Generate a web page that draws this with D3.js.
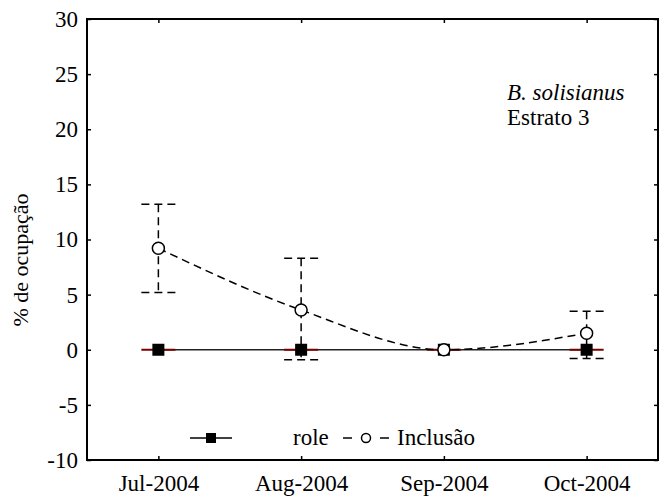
<!DOCTYPE html>
<html>
<head>
<meta charset="utf-8">
<script src="https://cdn.jsdelivr.net/npm/d3@7"></script>
<style>
  html, body { margin: 0; padding: 0; background: #fff; }
  svg { display: block; }
  svg text { font-family: "Liberation Serif", "Times New Roman", serif; fill: #000; }
</style>
</head>
<body>
<svg id="chart" width="661" height="497"></svg>
<script>
// Sampling months
const months = ["Jul-2004", "Aug-2004", "Sep-2004", "Oct-2004"];
// "role" series (mean occupation, %)
const roleValues = [0, 0, 0, 0];
// "Inclusão" series: mean and error-bar bounds (%)
const inclusaoValues = [9.2, 3.6, 0, 1.5];
const inclusaoLower = [5.2, -0.9, 0, -0.8];
const inclusaoUpper = [13.2, 8.3, 0, 3.5];
// Axis ticks
const yTicks = [-10, -5, 0, 5, 10, 15, 20, 25, 30];

const svg = d3.select("#chart");
const W = 661, H = 497;
const margin = { left: 87, top: 19, right: 3, bottom: 37 };
const fontSize = 23;
const serif = "'Liberation Serif', 'Times New Roman', serif";

const x = d3.scalePoint().domain(months).range([margin.left, W - margin.right]).padding(0.5);
const y = d3.scaleLinear().domain([-10, 30]).range([H - margin.bottom, margin.top]);

// Axes: ticks point inward on all sides
const gL = svg.append("g").attr("transform", `translate(${margin.left},0)`)
  .call(d3.axisLeft(y).tickValues(yTicks).tickSize(-4).tickPadding(9).tickFormat(d => String(d)));
const gR = svg.append("g").attr("transform", `translate(${W - margin.right},0)`)
  .call(d3.axisRight(y).tickValues(yTicks).tickSize(-4).tickFormat(""));
const gB = svg.append("g").attr("transform", `translate(0,${H - margin.bottom})`)
  .call(d3.axisBottom(x).tickSize(-4).tickPadding(15));
const gT = svg.append("g").attr("transform", `translate(0,${margin.top})`)
  .call(d3.axisTop(x).tickSize(-4).tickFormat(""));
[gL, gR, gB, gT].forEach(g => {
  g.attr("font-family", serif).attr("font-size", fontSize);
  g.select(".domain").remove();
  g.selectAll(".tick line").attr("stroke", "#000").attr("stroke-width", 1.5);
  g.selectAll(".tick text").attr("fill", "#000");
});

// Frame
svg.append("rect")
  .attr("x", margin.left).attr("y", margin.top)
  .attr("width", W - margin.left - margin.right)
  .attr("height", H - margin.top - margin.bottom)
  .attr("fill", "none").attr("stroke", "#000").attr("stroke-width", 2);

// Y axis title
svg.append("text")
  .attr("transform", `translate(28,260) rotate(-90)`)
  .attr("text-anchor", "middle")
  .attr("font-size", 22)
  .text("% de ocupação");

const capHalf = 17;

// role series: line, dark-red zero-width error caps, filled squares
svg.append("path")
  .datum(roleValues)
  .attr("fill", "none").attr("stroke", "#222").attr("stroke-width", 1.6)
  .attr("d", d3.line().x((d, i) => x(months[i])).y(d => y(d)));
svg.selectAll(".roleCap").data(roleValues).join("line")
  .attr("x1", (d, i) => x(months[i]) - capHalf).attr("x2", (d, i) => x(months[i]) + capHalf)
  .attr("y1", d => y(d)).attr("y2", d => y(d))
  .attr("stroke", "#7a0000").attr("stroke-width", 2);
const sq = 12;
svg.selectAll(".roleMark").data(roleValues).join("rect")
  .attr("x", (d, i) => x(months[i]) - sq / 2).attr("y", d => y(d) - sq / 2)
  .attr("width", sq).attr("height", sq).attr("fill", "#000");

// Inclusão series: dashed error bars, dashed line, open circles
const dash = "8,5";
const eb = svg.append("g").attr("stroke", "#000").attr("stroke-width", 1.5).attr("stroke-dasharray", dash).attr("fill", "none");
inclusaoValues.forEach((v, i) => {
  const cx = x(months[i]);
  if (inclusaoUpper[i] === inclusaoLower[i]) return;
  eb.append("line").attr("x1", cx).attr("x2", cx).attr("y1", y(inclusaoUpper[i])).attr("y2", y(inclusaoLower[i]));
  [inclusaoUpper[i], inclusaoLower[i]].forEach(b => {
    eb.append("line").attr("x1", cx - capHalf).attr("x2", cx + capHalf).attr("y1", y(b)).attr("y2", y(b));
  });
});
svg.append("path")
  .datum(inclusaoValues)
  .attr("fill", "none").attr("stroke", "#000").attr("stroke-width", 1.5).attr("stroke-dasharray", dash)
  .attr("d", d3.line().x((d, i) => x(months[i])).y(d => y(d)).curve(d3.curveMonotoneX));
svg.selectAll(".incMark").data(inclusaoValues).join("circle")
  .attr("cx", (d, i) => x(months[i])).attr("cy", d => y(d)).attr("r", 6)
  .attr("fill", "#fff").attr("stroke", "#000").attr("stroke-width", 1.5);

// Species / stratum annotation
const ann = svg.append("text").attr("font-size", fontSize);
ann.append("tspan").attr("x", 507).attr("y", 100).attr("font-style", "italic").text("B. solisianus");
ann.append("tspan").attr("x", 507).attr("y", 125).text("Estrato 3");

// Legend
const ly = 438;
const leg = svg.append("g");
leg.append("line").attr("x1", 190).attr("x2", 232).attr("y1", ly).attr("y2", ly).attr("stroke", "#000").attr("stroke-width", 1.5);
leg.append("rect").attr("x", 206).attr("y", ly - 5).attr("width", 10).attr("height", 10).attr("fill", "#000");
leg.append("text").attr("x", 293).attr("y", ly + 7).attr("font-size", fontSize).text("role");
leg.append("line").attr("x1", 343).attr("x2", 352).attr("y1", ly).attr("y2", ly).attr("stroke", "#000").attr("stroke-width", 1.5);
leg.append("circle").attr("cx", 366).attr("cy", ly).attr("r", 4.5).attr("fill", "#fff").attr("stroke", "#000").attr("stroke-width", 1.5);
leg.append("line").attr("x1", 380).attr("x2", 389).attr("y1", ly).attr("y2", ly).attr("stroke", "#000").attr("stroke-width", 1.5);
leg.append("text").attr("x", 397).attr("y", ly + 7).attr("font-size", fontSize).text("Inclusão");
</script>
</body>
</html>
